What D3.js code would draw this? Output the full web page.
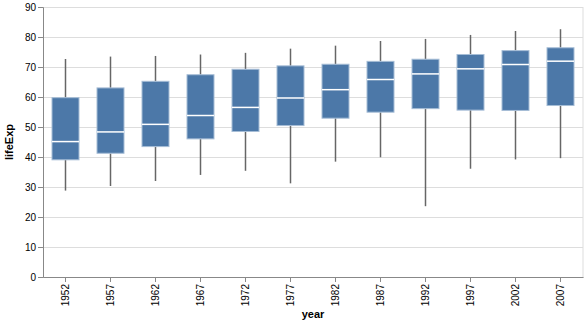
<!DOCTYPE html>
<html><head><meta charset="utf-8">
<script src="https://cdn.jsdelivr.net/npm/d3@7"></script>
<style>body{margin:0;background:#fff}svg{display:block}</style>
</head><body>
<script>
const years = ["1952","1957","1962","1967","1972","1977","1982","1987","1992","1997","2002","2007"];
const minVals = [28.8, 30.33, 32.0, 34.02, 35.4, 31.22, 38.45, 39.91, 23.6, 36.09, 39.19, 39.61];
const q1Vals = [39.06, 41.25, 43.47, 46.04, 48.5, 50.48, 52.94, 54.94, 56.12, 55.63, 55.52, 57.16];
const medianVals = [45.14, 48.36, 50.88, 53.83, 56.53, 59.67, 62.44, 65.83, 67.7, 69.39, 70.83, 71.94];
const q3Vals = [59.77, 63.03, 65.23, 67.42, 69.25, 70.38, 70.92, 71.88, 72.59, 74.17, 75.46, 76.41];
const maxVals = [72.67, 73.47, 73.68, 74.16, 74.72, 76.11, 77.11, 78.67, 79.36, 80.69, 82.0, 82.6];
const yTicks = [0,10,20,30,40,50,60,70,80,90];

const W = 586, H = 322;
const m = {left: 43, top: 7, right: 3, bottom: 45};
const pw = W - m.left - m.right, ph = H - m.top - m.bottom;

const svg = d3.select("body").append("svg").attr("width", W).attr("height", H)
  .style("font-family", "Liberation Sans, Arial, sans-serif");
const g = svg.append("g").attr("transform", `translate(${m.left},${m.top})`);

const x = d3.scaleBand().domain(years).range([0, pw]);
const y = d3.scaleLinear().domain([0, 90]).range([ph, 0]);

// view border
g.append("rect").attr("x", 0.5).attr("y", 0.5).attr("width", pw - 0.5).attr("height", ph)
  .attr("fill", "none").attr("stroke", "#ddd");

// grid
g.append("g").selectAll("line").data(yTicks).join("line")
  .attr("x1", 0).attr("x2", pw)
  .attr("y1", d => Math.round(y(d)) + 0.5).attr("y2", d => Math.round(y(d)) + 0.5)
  .attr("stroke", "#ddd");

// y axis
const ya = g.append("g").call(d3.axisLeft(y).tickValues(yTicks).tickSize(5).tickPadding(2));
ya.select(".domain").attr("stroke", "#888");
ya.selectAll(".tick line").attr("stroke", "#888");
ya.selectAll(".tick text").attr("fill", "#000").style("font-size", "10px");

// x axis
const xa = g.append("g").attr("transform", `translate(0,${ph})`)
  .call(d3.axisBottom(x).tickSize(5).tickPadding(2).tickSizeOuter(0));
xa.select(".domain").attr("stroke", "#888");
xa.selectAll(".tick line").attr("stroke", "#888");
xa.selectAll(".tick text").attr("fill", "#000").style("font-size", "10px")
  .attr("transform", "rotate(-90)").attr("text-anchor", "end")
  .attr("x", -7).attr("y", 0).attr("dy", "0.32em");

// titles
svg.append("text").attr("x", m.left + pw / 2).attr("y", 318)
  .attr("text-anchor", "middle").style("font-size", "11px").style("font-weight", "bold").text("year");
svg.append("text").attr("transform", `translate(13,${m.top + ph / 2}) rotate(-90)`)
  .attr("text-anchor", "middle").style("font-size", "11px").style("font-weight", "bold").text("lifeExp");

const data = years.map((yr, i) => ({yr, min: minVals[i], q1: q1Vals[i], med: medianVals[i], q3: q3Vals[i], max: maxVals[i]}));
const bw = 27;
const boxes = g.append("g").selectAll("g").data(data).join("g")
  .attr("transform", d => `translate(${x(d.yr) + x.bandwidth() / 2},0)`);

boxes.append("line").attr("x1", 0).attr("x2", 0)
  .attr("y1", d => y(d.max)).attr("y2", d => y(d.q3)).attr("stroke", "#666").attr("stroke-width", 1.5);
boxes.append("line").attr("x1", 0).attr("x2", 0)
  .attr("y1", d => y(d.q1)).attr("y2", d => y(d.min)).attr("stroke", "#666").attr("stroke-width", 1.5);
boxes.append("rect").attr("x", -bw / 2).attr("width", bw)
  .attr("y", d => y(d.q3)).attr("height", d => y(d.q1) - y(d.q3))
  .attr("fill", "#4c78a8").attr("stroke", "#a6bdd6").attr("stroke-width", 1);
boxes.append("line").attr("x1", -bw / 2).attr("x2", bw / 2)
  .attr("y1", d => y(d.med)).attr("y2", d => y(d.med))
  .attr("stroke", "#fff").attr("stroke-width", 1.5);
</script>
</body></html>
